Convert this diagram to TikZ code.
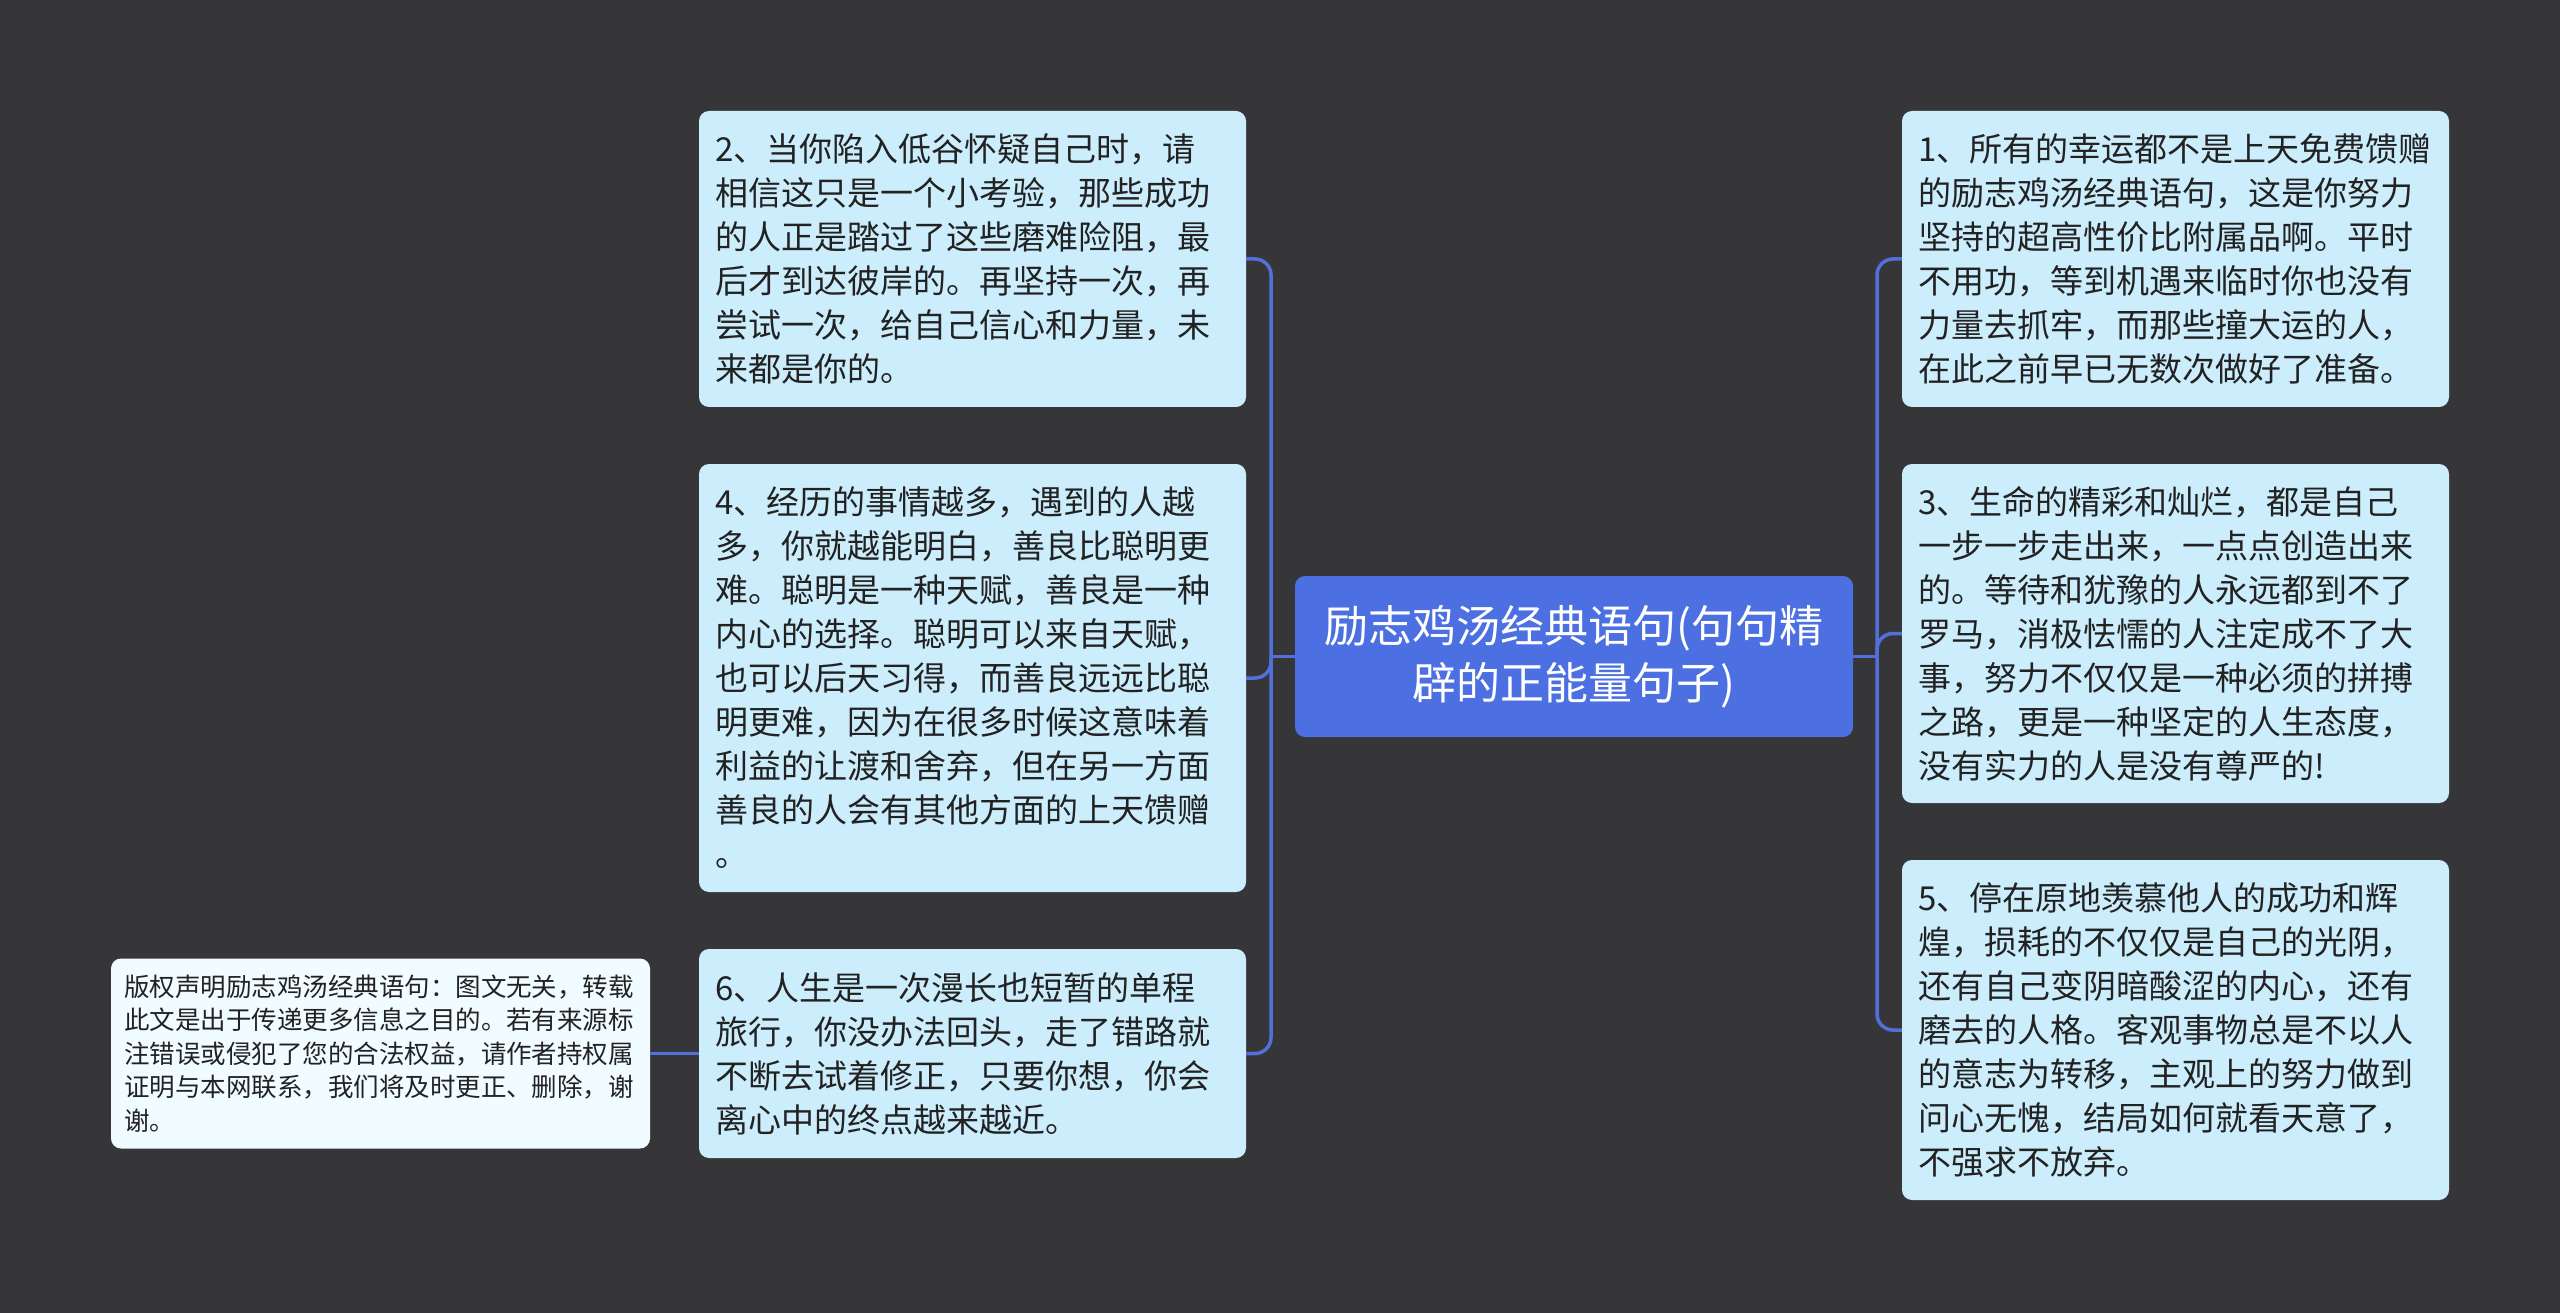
\documentclass[tikz,border=0pt]{standalone}
\usepackage{fontspec}
\setmainfont{Noto Sans CJK SC}
\usepackage{graphicx}
\definecolor{bg}{RGB}{54,54,56}
\definecolor{boxfill}{RGB}{204,237,252}
\definecolor{rootfill}{RGB}{76,112,226}
\definecolor{linec}{RGB}{82,112,220}
\definecolor{copyfill}{RGB}{240,252,255}
\definecolor{txt}{RGB}{34,34,34}
\tikzset{
  leaf/.style={fill=boxfill, rounded corners=10pt, text=txt, align=left,
    inner xsep=16pt, inner ysep=0pt, text width=515pt, minimum width=547pt,
    font={\fontsize{33}{44}\selectfont}},
  rootbox/.style={fill=rootfill, rounded corners=10pt, text=white, align=center,
    inner sep=0pt, minimum width=558pt, minimum height=161pt,
    font={\fontsize{44}{57}\selectfont}},
  copybox/.style={fill=copyfill, rounded corners=10pt, text=txt, align=left,
    inner xsep=13pt, inner ysep=0pt, text width=513pt, minimum width=539pt,
    minimum height=190pt, font={\fontsize{25.5}{33.5}\selectfont}},
  conn/.style={draw=linec, line width=3.5pt},
  bconn/.style={conn, rounded corners=16pt}
}
\begin{document}
\begin{tikzpicture}[x=1pt,y=-1pt]
\fill[bg] (0,0) rectangle (2560,1313);
\useasboundingbox (0,0) rectangle (2560,1313);

\node[rootbox] (root) at (1574,656.5) {励志鸡汤经典语句(句句精\\辟的正能量句子)};

\node[leaf, minimum height=296pt] (b2) at (972.5,259) {2、当你陷入低谷怀疑自己时，请\\相信这只是一个小考验，那些成功\\的人正是踏过了这些磨难险阻，最\\后才到达彼岸的。再坚持一次，再\\尝试一次，给自己信心和力量，未\\来都是你的。};

\node[leaf, minimum height=428pt] (b4) at (972.5,678) {4、经历的事情越多，遇到的人越\\多，你就越能明白，善良比聪明更\\难。聪明是一种天赋，善良是一种\\内心的选择。聪明可以来自天赋，\\也可以后天习得，而善良远远比聪\\明更难，因为在很多时候这意味着\\利益的让渡和舍弃，但在另一方面\\善良的人会有其他方面的上天馈赠\\。};

\node[leaf, minimum height=209pt] (b6) at (972.5,1053.5) {6、人生是一次漫长也短暂的单程\\旅行，你没办法回头，走了错路就\\不断去试着修正，只要你想，你会\\离心中的终点越来越近。};

\node[copybox] (cp) at (380.5,1053.5) {版权声明励志鸡汤经典语句：图文无关，转载\\此文是出于传递更多信息之目的。若有来源标\\注错误或侵犯了您的合法权益，请作者持权属\\证明与本网联系，我们将及时更正、删除，谢\\谢。};

\node[leaf, minimum height=296pt] (b1) at (2175.5,259) {1、所有的幸运都不是上天免费馈赠\\的励志鸡汤经典语句，这是你努力\\坚持的超高性价比附属品啊。平时\\不用功，等到机遇来临时你也没有\\力量去抓牢，而那些撞大运的人，\\在此之前早已无数次做好了准备。};

\node[leaf, minimum height=339pt] (b3) at (2175.5,633.5) {3、生命的精彩和灿烂，都是自己\\一步一步走出来，一点点创造出来\\的。等待和犹豫的人永远都到不了\\罗马，消极怯懦的人注定成不了大\\事，努力不仅仅是一种必须的拼搏\\之路，更是一种坚定的人生态度，\\没有实力的人是没有尊严的!};

\node[leaf, minimum height=340pt] (b5) at (2175.5,1030) {5、停在原地羡慕他人的成功和辉\\煌，损耗的不仅仅是自己的光阴，\\还有自己变阴暗酸涩的内心，还有\\磨去的人格。客观事物总是不以人\\的意志为转移，主观上的努力做到\\问心无愧，结局如何就看天意了，\\不强求不放弃。};

\coordinate (lt) at (1271,656.5);
\coordinate (rt) at (1877,656.5);

\draw[conn] (root.west) -- (lt);
\draw[bconn] (lt) |- (b2.east);
\draw[bconn] (lt) |- (b4.east);
\draw[bconn] (lt) |- (b6.east);

\draw[conn] (root.east) -- (rt);
\draw[bconn] (rt) |- (b1.west);
\draw[bconn] (rt) |- (b3.west);
\draw[bconn] (rt) |- (b5.west);

\draw[conn] (cp.east) -- (b6.west);
\end{tikzpicture}
\end{document}
